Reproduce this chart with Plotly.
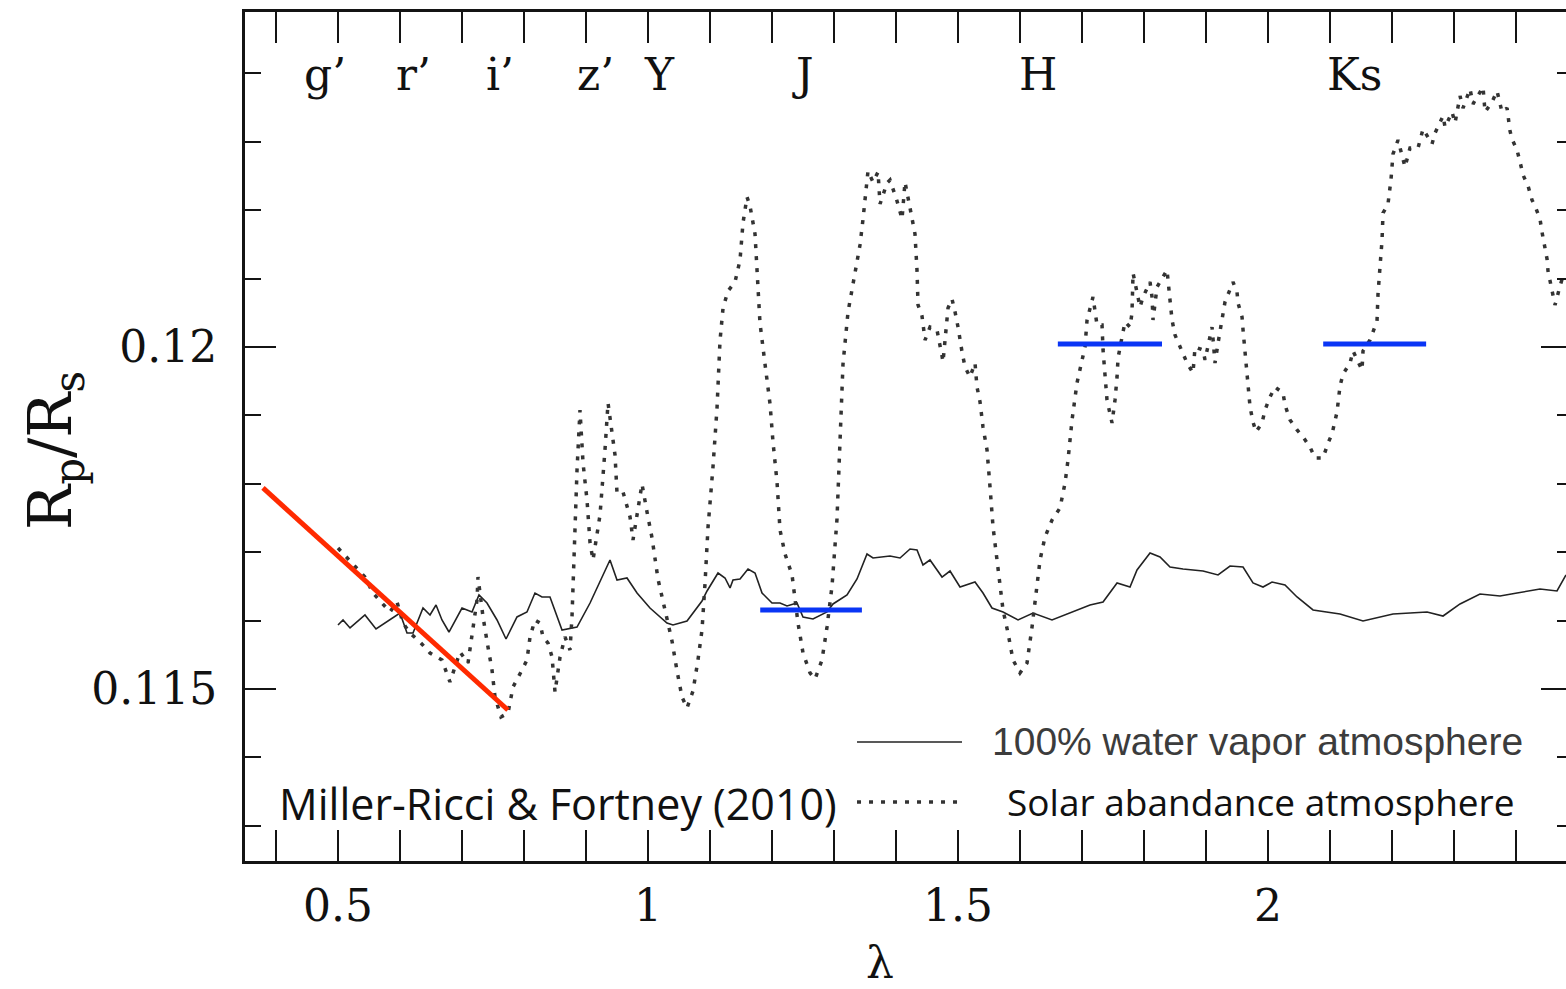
import plotly.graph_objects as go

# ---------------- data ----------------
# 100% water vapor atmosphere model (wavelength in micron, Rp/Rs)
water_lam = [0.5000, 0.5081, 0.5194, 0.5306, 0.5435, 0.5613, 0.5839, 0.6000, 0.6113, 0.6210,
             0.6371, 0.6484, 0.6581, 0.6677, 0.6790, 0.7000, 0.7161, 0.7274, 0.7403, 0.7565,
             0.7710, 0.7887, 0.8048, 0.8177, 0.8290, 0.8419, 0.8613, 0.8855, 0.9065, 0.9387,
             0.9500, 0.9661, 0.9823, 1.0032, 1.0306, 1.0403, 1.0629, 1.0871, 1.0952, 1.1129,
             1.1242, 1.1323, 1.1371, 1.1484, 1.1613, 1.1726, 1.1839, 1.2000, 1.2129, 1.2242,
             1.2403, 1.2500, 1.2661, 1.2887, 1.2984, 1.3210, 1.3371, 1.3532, 1.3629, 1.3903,
             1.4065, 1.4226, 1.4339, 1.4435, 1.4548, 1.4742, 1.4871, 1.5032, 1.5274, 1.5403,
             1.5548, 1.5726, 1.5968, 1.6210, 1.6516, 1.6806, 1.7129, 1.7339, 1.7565, 1.7774,
             1.7887, 1.8097, 1.8258, 1.8419, 1.8629, 1.8952, 1.9194, 1.9387, 1.9597, 1.9758,
             1.9919, 2.0065, 2.0274, 2.0468, 2.0726, 2.1161, 2.1532, 2.2016, 2.2565, 2.2823,
             2.3097, 2.3419, 2.3742, 2.4016, 2.4387, 2.4661, 2.4806]
water_R = [0.115936, 0.116009, 0.115892, 0.115979, 0.116082, 0.115877, 0.116009, 0.116111, 0.115819, 0.115819,
           0.116184, 0.116082, 0.116228, 0.116009, 0.115833, 0.116184, 0.116126, 0.116374, 0.116257, 0.116009,
           0.115731, 0.116053, 0.116126, 0.116403, 0.116345, 0.116345, 0.115863, 0.115906, 0.116257, 0.116886,
           0.116594, 0.116623, 0.116403, 0.116184, 0.115965, 0.115936, 0.115994, 0.116287, 0.116433, 0.116696,
           0.116623, 0.116477, 0.116594, 0.116608, 0.116754, 0.116696, 0.116403, 0.116257, 0.116257, 0.116213,
           0.116257, 0.116053, 0.116023, 0.116126, 0.116243, 0.116374, 0.116608, 0.116974, 0.116915, 0.116944,
           0.116915, 0.117047, 0.117032, 0.116813, 0.116886, 0.116637, 0.116725, 0.116491, 0.116564, 0.116403,
           0.116184, 0.116126, 0.116009, 0.116111, 0.116009, 0.116111, 0.116228, 0.116272, 0.116550, 0.116491,
           0.116740, 0.116988, 0.116930, 0.116784, 0.116754, 0.116725, 0.116667, 0.116798, 0.116784, 0.116550,
           0.116491, 0.116564, 0.116520, 0.116345, 0.116155, 0.116096, 0.115994, 0.116096, 0.116126, 0.116067,
           0.116243, 0.116389, 0.116360, 0.116403, 0.116462, 0.116433, 0.116667]

# Solar abundance atmosphere model
solar_lam = [0.5000, 0.5145, 0.5242, 0.5435, 0.5565, 0.5710, 0.5839, 0.5952, 0.6048, 0.6161,
             0.6323, 0.6484, 0.6677, 0.6806, 0.6968, 0.7097, 0.7177, 0.7242, 0.7258, 0.7339,
             0.7419, 0.7484, 0.7532, 0.7629, 0.7742, 0.7823, 0.7968, 0.8048, 0.8097, 0.8177,
             0.8258, 0.8306, 0.8387, 0.8452, 0.8500, 0.8581, 0.8661, 0.8742, 0.8774, 0.8790,
             0.8823, 0.8855, 0.8903, 0.8952, 0.9016, 0.9065, 0.9113, 0.9226, 0.9306, 0.9355,
             0.9468, 0.9500, 0.9597, 0.9710, 0.9758, 0.9903, 0.9984, 1.0065, 1.0161, 1.0306,
             1.0387, 1.0468, 1.0548, 1.0629, 1.0726, 1.0806, 1.0871, 1.0919, 1.0968, 1.1048,
             1.1113, 1.1161, 1.1210, 1.1290, 1.1403, 1.1484, 1.1532, 1.1597, 1.1645, 1.1726,
             1.1758, 1.1806, 1.1887, 1.1968, 1.2016, 1.2081, 1.2129, 1.2210, 1.2323, 1.2419,
             1.2500, 1.2613, 1.2694, 1.2806, 1.2887, 1.2968, 1.3048, 1.3097, 1.3145, 1.3226,
             1.3339, 1.3419, 1.3468, 1.3548, 1.3629, 1.3710, 1.3742, 1.3855, 1.3903, 1.4016,
             1.4097, 1.4145, 1.4226, 1.4306, 1.4339, 1.4355, 1.4419, 1.4468, 1.4548, 1.4661,
             1.4742, 1.4758, 1.4839, 1.4903, 1.4952, 1.5000, 1.5065, 1.5113, 1.5194, 1.5274,
             1.5306, 1.5355, 1.5403, 1.5468, 1.5516, 1.5565, 1.5629, 1.5677, 1.5726, 1.5806,
             1.5887, 1.6000, 1.6113, 1.6194, 1.6274, 1.6323, 1.6403, 1.6516, 1.6645, 1.6726,
             1.6774, 1.6839, 1.6919, 1.7000, 1.7048, 1.7081, 1.7129, 1.7177, 1.7242, 1.7323,
             1.7339, 1.7371, 1.7403, 1.7484, 1.7532, 1.7565, 1.7581, 1.7645, 1.7694, 1.7774,
             1.7806, 1.7823, 1.7935, 1.7984, 1.8097, 1.8129, 1.8145, 1.8210, 1.8290, 1.8371,
             1.8419, 1.8452, 1.8500, 1.8581, 1.8694, 1.8790, 1.8823, 1.8952, 1.8984, 1.9097,
             1.9145, 1.9194, 1.9274, 1.9306, 1.9435, 1.9500, 1.9516, 1.9581, 1.9597, 1.9629,
             1.9661, 1.9677, 1.9710, 1.9758, 1.9806, 1.9903, 1.9952, 2.0032, 2.0113, 2.0242,
             2.0274, 2.0355, 2.0468, 2.0565, 2.0677, 2.0758, 2.0887, 2.0968, 2.1032, 2.1113,
             2.1161, 2.1210, 2.1323, 2.1371, 2.1516, 2.1532, 2.1645, 2.1758, 2.1774, 2.1806,
             2.1839, 2.1855, 2.1935, 2.1984, 2.2016, 2.2097, 2.2210, 2.2290, 2.2419, 2.2500,
             2.2645, 2.2694, 2.2823, 2.2855, 2.2968, 2.3016, 2.3097, 2.3145, 2.3258, 2.3306,
             2.3468, 2.3500, 2.3613, 2.3694, 2.3774, 2.3855, 2.3903, 2.3935, 2.4016, 2.4065,
             2.4113, 2.4194, 2.4258, 2.4306, 2.4387, 2.4419, 2.4468, 2.4500, 2.4516, 2.4581,
             2.4629, 2.4710, 2.4758, 2.4806]
solar_R = [0.117061, 0.116915, 0.116813, 0.116637, 0.116403, 0.116257, 0.116126, 0.116272, 0.115965, 0.115819,
           0.115687, 0.115526, 0.115424, 0.115102, 0.115541, 0.115380, 0.115863, 0.116301, 0.116637, 0.116053,
           0.115614, 0.115278, 0.114883, 0.114591, 0.114649, 0.115029, 0.115278, 0.115424, 0.115760, 0.116009,
           0.115965, 0.115760, 0.115672, 0.115468, 0.114956, 0.115468, 0.115760, 0.115570, 0.116053, 0.116550,
           0.117515, 0.118202, 0.119079, 0.118304, 0.117763, 0.117134, 0.116886, 0.117544, 0.118494, 0.119181,
           0.118421, 0.117865, 0.117880, 0.117515, 0.117178, 0.117997, 0.117588, 0.117208, 0.116608, 0.116053,
           0.115702, 0.115263, 0.114883, 0.114722, 0.114971, 0.115424, 0.115863, 0.116535, 0.117368, 0.118246,
           0.119108, 0.120088, 0.120570, 0.120819, 0.120950, 0.121272, 0.121813, 0.122193, 0.122061, 0.121652,
           0.121111, 0.120351, 0.119751, 0.119167, 0.118611, 0.118026, 0.117325, 0.116974, 0.116667, 0.115965,
           0.115526, 0.115234, 0.115146, 0.115424, 0.115906, 0.116506, 0.117485, 0.118611, 0.119751, 0.120512,
           0.121111, 0.121491, 0.121871, 0.122573, 0.122412, 0.122559, 0.122091, 0.122398, 0.122442, 0.122135,
           0.121871, 0.122412, 0.122032, 0.121652, 0.121111, 0.120614, 0.120453, 0.120102, 0.120292, 0.120249,
           0.119868, 0.119781, 0.120570, 0.120702, 0.120512, 0.120292, 0.119927, 0.119708, 0.119561, 0.119766,
           0.119415, 0.119196, 0.118830, 0.118494, 0.117953, 0.117368, 0.116886, 0.116550, 0.116155, 0.115819,
           0.115424, 0.115234, 0.115380, 0.115906, 0.116491, 0.116886, 0.117222, 0.117471, 0.117646, 0.118012,
           0.118348, 0.118933, 0.119474, 0.119810, 0.120000, 0.120395, 0.120585, 0.120731, 0.120322, 0.120322,
           0.119956, 0.119561, 0.119225, 0.118889, 0.119225, 0.119561, 0.119839, 0.120146, 0.120366, 0.120292,
           0.120497, 0.121082, 0.120585, 0.120731, 0.120950, 0.120731, 0.120395, 0.120877, 0.121009, 0.121126,
           0.120687, 0.120395, 0.120175, 0.120000, 0.119766, 0.119620, 0.120000, 0.119956, 0.119810, 0.120292,
           0.119766, 0.120058, 0.120439, 0.120658, 0.120950, 0.120804, 0.120643, 0.120439, 0.120249, 0.119912,
           0.119518, 0.119327, 0.119123, 0.118903, 0.118757, 0.118889, 0.119079, 0.119269, 0.119415, 0.119327,
           0.119152, 0.118933, 0.118787, 0.118684, 0.118538, 0.118377, 0.118377, 0.118596, 0.118728, 0.119050,
           0.119430, 0.119605, 0.119766, 0.119942, 0.119664, 0.119942, 0.120102, 0.120380, 0.120775, 0.121170,
           0.121564, 0.121959, 0.122091, 0.122456, 0.122822, 0.123026, 0.122632, 0.122909, 0.122909, 0.123187,
           0.122968, 0.123129, 0.123377, 0.123216, 0.123436, 0.123275, 0.123670, 0.123494, 0.123772, 0.123553,
           0.123801, 0.123436, 0.123582, 0.123743, 0.123436, 0.123494, 0.123158, 0.123041, 0.122880, 0.122705,
           0.122515, 0.122354, 0.122149, 0.122061, 0.121871, 0.121681, 0.121418, 0.121287, 0.121111, 0.120804,
           0.120614, 0.120892, 0.121038, 0.121053]

# optical slope (red line)
slope_lam = [0.379, 0.774]
slope_R = [0.117939, 0.114693]

# broadband NIR measurements (blue bars): J, H, Ks
band_lo = [1.181, 1.661, 2.089]
band_hi = [1.345, 1.829, 2.255]
band_R = [0.116155, 0.120044, 0.120044]

# filter names along the top
filter_names = ["g’", "r’", "i’", "z’", "Y", "J", "H", "Ks"]
filter_lam = [0.479, 0.621, 0.761, 0.915, 1.019, 1.250, 1.629, 2.140]

x_major = [0.5, 1, 1.5, 2]
x_major_text = ["0.5", "1", "1.5", "2"]
y_major = [0.115, 0.12]
y_major_text = ["0.115", "0.12"]

X_RANGE = [0.35, 2.4806]
Y_RANGE = [0.112485, 0.124898]

SERIF = "DejaVu Serif"
AX = "#141414"

fig = go.Figure()

fig.add_trace(go.Scatter(x=water_lam, y=water_R, mode="lines",
                         line=dict(color="#222222", width=1.6), showlegend=False, hoverinfo="skip"))
fig.add_trace(go.Scatter(x=solar_lam, y=solar_R, mode="lines",
                         line=dict(color="#333333", width=3.5, dash="4px,8px"), showlegend=False, hoverinfo="skip"))
fig.add_trace(go.Scatter(x=slope_lam, y=slope_R, mode="lines",
                         line=dict(color="#FF2A00", width=5), showlegend=False, hoverinfo="skip"))

bx, by = [], []
for lo, hi, r in zip(band_lo, band_hi, band_R):
    bx += [lo, hi, None]
    by += [r, r, None]
fig.add_trace(go.Scatter(x=bx, y=by, mode="lines",
                         line=dict(color="#0A35F5", width=5), showlegend=False, hoverinfo="skip"))

# dummy trace for the right-hand tick axis
fig.add_trace(go.Scatter(x=[None], y=[None], yaxis="y2", showlegend=False, hoverinfo="skip"))

fig.update_layout(
    width=1566, height=989,
    margin=dict(l=245, r=0, t=12, b=128),
    paper_bgcolor="white", plot_bgcolor="white",
    font=dict(family=SERIF, color="#111111"),
    xaxis=dict(range=X_RANGE, showgrid=False, zeroline=False,
               showline=True, linewidth=3, linecolor=AX, mirror="allticks",
               ticks="inside", ticklen=31, tickwidth=2, tickcolor=AX,
               tickmode="array", tickvals=x_major, ticktext=x_major_text,
               tickfont=dict(family=SERIF, size=44, color="#111111"),
               ticklabelstandoff=4,
               minor=dict(ticks="inside", ticklen=16, tickwidth=2, tickcolor=AX,
                          tickmode="linear", tick0=0, dtick=0.1, showgrid=False)),
    yaxis=dict(range=Y_RANGE, showgrid=False, zeroline=False,
               showline=True, linewidth=3, linecolor=AX,
               ticks="inside", ticklen=31, tickwidth=2, tickcolor=AX,
               tickmode="array", tickvals=y_major, ticktext=y_major_text,
               tickfont=dict(family=SERIF, size=44, color="#111111"),
               ticklabelstandoff=16,
               minor=dict(ticks="inside", ticklen=16, tickwidth=2, tickcolor=AX,
                          tickmode="linear", tick0=0.112, dtick=0.001, showgrid=False)),
    yaxis2=dict(range=Y_RANGE, overlaying="y", side="right", anchor="x",
                showgrid=False, zeroline=False, showline=False, showticklabels=False,
                ticks="inside", ticklen=25, tickwidth=2, tickcolor=AX,
                tickmode="array", tickvals=y_major,
                minor=dict(ticks="inside", ticklen=9, tickwidth=2, tickcolor=AX,
                           tickmode="linear", tick0=0.112, dtick=0.001, showgrid=False)),
)

# filter labels
for name, lam in zip(filter_names, filter_lam):
    fig.add_annotation(x=lam, y=0.12398, xref="x", yref="y", text=name, showarrow=False,
                       xanchor="center", yanchor="middle",
                       font=dict(family=SERIF, size=44, color="#111111"))

# axis titles
fig.add_annotation(x=-0.1438, y=0.483, xref="paper", yref="paper",
                   text="R<sub>p</sub>/R<sub>s</sub>", textangle=-90, showarrow=False,
                   xanchor="center", yanchor="middle",
                   font=dict(family=SERIF, size=60, color="#111111"))
fig.add_annotation(x=1.374, y=-0.12, xref="x", yref="paper", text="λ", showarrow=False,
                   xanchor="center", yanchor="middle",
                   font=dict(family=SERIF, size=44, color="#111111"))

# legend (manual)
fig.add_shape(type="line", xref="paper", yref="paper", x0=0.4633, x1=0.5428, y0=0.1402, y1=0.1402,
              line=dict(color="#222222", width=1.6))
fig.add_shape(type="line", xref="paper", yref="paper", x0=0.4633, x1=0.5428, y0=0.0695, y1=0.0695,
              line=dict(color="#333333", width=3.5, dash="4px,8px"))
fig.add_annotation(x=0.564, y=0.1402, xref="paper", yref="paper", text="100% water vapor atmosphere",
                   showarrow=False, xanchor="left", yanchor="middle",
                   font=dict(family="Liberation Sans", size=39, color="#3c3c3c"))
fig.add_annotation(x=0.5753, y=0.0695, xref="paper", yref="paper", text="Solar abandance atmosphere",
                   showarrow=False, xanchor="left", yanchor="middle",
                   font=dict(family="Open Sans", size=37, color="#111111"))
fig.add_annotation(x=0.0242, y=0.0683, xref="paper", yref="paper", text="Miller-Ricci &amp; Fortney (2010)",
                   showarrow=False, xanchor="left", yanchor="middle",
                   font=dict(family="Open Sans", size=43, color="#111111"))

fig.write_html("out.html")
